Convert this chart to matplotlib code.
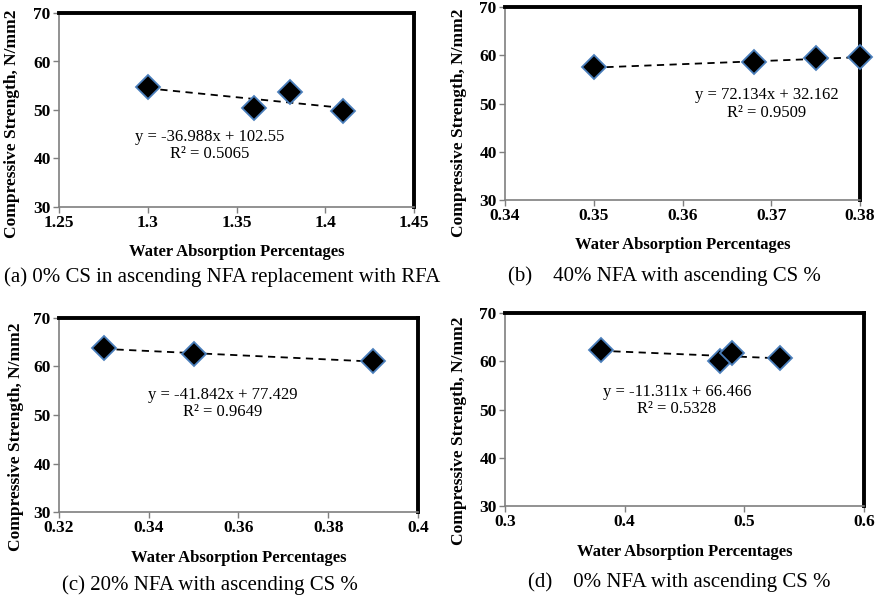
import numpy as np
import matplotlib
matplotlib.use('Agg')
import matplotlib.pyplot as plt

plt.rcParams['font.family'] = ['Liberation Serif', 'DejaVu Serif']

# Data
x_a = [1.30, 1.36, 1.38, 1.41]
y_a = [54.7, 50.4, 53.8, 49.8]
x_b = [0.350, 0.368, 0.375, 0.380]
y_b = [57.5, 58.5, 59.4, 59.6]
x_c = [0.33, 0.35, 0.39]
y_c = [63.8, 62.5, 61.1]
x_d = [0.38, 0.48, 0.49, 0.53]
y_d = [62.3, 60.1, 61.8, 60.7]

eq_a = 'y = -36.988x + 102.55\nR² = 0.5065'
eq_b = 'y = 72.134x + 32.162\nR² = 0.9509'
eq_c = 'y = -41.842x + 77.429\nR² = 0.9649'
eq_d = 'y = -11.311x + 66.466\nR² = 0.5328'

cap_a = '(a) 0% CS in ascending NFA replacement with RFA'
cap_b = '(b)    40% NFA with ascending CS %'
cap_c = '(c) 20% NFA with ascending CS %'
cap_d = '(d)    0% NFA with ascending CS %'

W, H = 877, 599
fig = plt.figure(figsize=(W / 100, H / 100), dpi=100)


def px_axes(left, top, right, bottom):
    return fig.add_axes([left / W, 1 - bottom / H, (right - left) / W, (bottom - top) / H])


def panel(box, xs, ys, xlim, xticks, eq, eq_pos, xlab_y, ylab_pos):
    ax = px_axes(*box)
    ax.plot(xs, ys, linestyle='none', marker='D', markersize=12.5, clip_on=False,
            markerfacecolor='black', markeredgecolor='#4a7ebb', markeredgewidth=1.3, zorder=3)
    m, b = np.polyfit(xs, ys, 1)
    xf = np.array([min(xs), max(xs)])
    ax.plot(xf, m * xf + b, linestyle=(0, (4, 3)), color='black', linewidth=1.3, zorder=2)
    ax.set_xlim(*xlim)
    ax.set_ylim(30, 70)
    ax.set_xticks(xticks)
    ax.set_xticklabels([('%g' % t) for t in xticks])
    ax.set_yticks([30, 40, 50, 60, 70])
    for s in ['top', 'right']:
        ax.spines[s].set_linewidth(2.8)
        ax.spines[s].set_color('black')
    for s in ['left', 'bottom']:
        ax.spines[s].set_linewidth(1.2)
        ax.spines[s].set_color('#7f7f7f')
    ax.tick_params(direction='out', length=4, width=1, color='#7f7f7f', pad=2)
    for lab in ax.get_xticklabels() + ax.get_yticklabels():
        lab.set_fontweight('bold')
        lab.set_fontsize(12.5)
    ax.set_xlabel('Water Absorption Percentages', fontsize=12, fontweight='bold', va='center')
    ax.xaxis.set_label_coords(0.5, xlab_y)
    ax.set_ylabel('Compressive Strength, N/mm2', fontsize=12.5, fontweight='bold', va='center')
    ax.yaxis.set_label_coords(*ylab_pos)
    ax.text(eq_pos[0], eq_pos[1], eq, ha='center', va='center', fontsize=12, linespacing=1.1)
    return ax


panel((59, 13, 414, 207), x_a, y_a, (1.25, 1.45), [1.25, 1.3, 1.35, 1.4, 1.45], eq_a,
      (1.335, 42.6), -0.232, (-0.132, 0.43))
panel((505, 7, 860, 200), x_b, y_b, (0.34, 0.38), [0.34, 0.35, 0.36, 0.37, 0.38], eq_b,
      (0.3695, 49.9), -0.233, (-0.13, 0.40))
panel((59, 318, 418, 512), x_c, y_c, (0.32, 0.40), [0.32, 0.34, 0.36, 0.38, 0.4], eq_c,
      (0.3565, 52.3), -0.237, (-0.12, 0.39))
panel((505, 313, 864, 506), x_d, y_d, (0.3, 0.6), [0.3, 0.4, 0.5, 0.6], eq_d,
      (0.4437, 51.8), -0.238, (-0.128, 0.39))

fig.text(222 / W, 1 - 277 / H, cap_a, ha='center', va='center', fontsize=15)
fig.text(664 / W, 1 - 276 / H, cap_b, ha='center', va='center', fontsize=15)
fig.text(210 / W, 1 - 585 / H, cap_c, ha='center', va='center', fontsize=15)
fig.text(679 / W, 1 - 582 / H, cap_d, ha='center', va='center', fontsize=15)

fig.savefig('out.png', dpi=100)
